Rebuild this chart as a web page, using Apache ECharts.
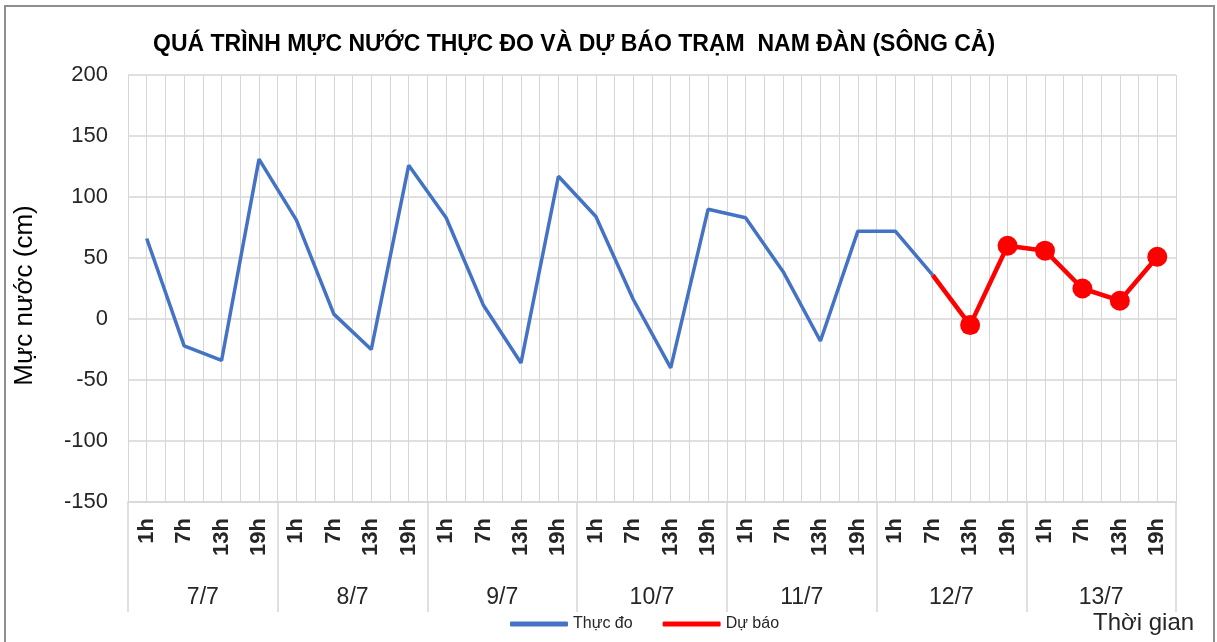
<!DOCTYPE html>
<html>
<head>
<meta charset="utf-8">
<script src="https://cdn.jsdelivr.net/npm/echarts@6/dist/echarts.min.js"></script>
<style>
  html, body { margin: 0; padding: 0; background: #fff; }
  #chartsDom { width: 1217px; height: 642px; }
</style>
</head>
<body>
<div id="chartsDom"></div>
<script>
// du lieu
const days = ["7/7", "8/7", "9/7", "10/7", "11/7", "12/7", "13/7"];
const hours = ["1h", "7h", "13h", "19h"];
const yTicks = { min: -150, max: 200, step: 50 };

// muc nuoc thuc do (cm), 7/7 1h -> 12/7 7h
const thucDo = [66, -22, -34, 131, 81, 4, -25, 126, 83, 11, -36, 117, 84, 16, -40, 90, 83, 39, -18, 72, 72, 36];
// du bao (cm), 12/7 7h -> 13/7 19h
const duBao = [36, -5, 60, 56, 25, 15, 51];

const categories = [];
days.forEach(d => hours.forEach(h => categories.push(d + " " + h)));

const observedData = categories.map((c, i) => (i < thucDo.length ? thucDo[i] : null));
const forecastStart = thucDo.length - 1;
const forecastData = categories.map((c, i) => {
  if (i < forecastStart) return null;
  const v = duBao[i - forecastStart];
  // diem noi dau tien khong co marker
  return i === forecastStart ? { value: v, symbol: "none" } : v;
});

const gridColor = "#d6d6d6";
const textColor = "#262626";
const font = "'Liberation Sans', Arial, sans-serif";

const myChart = echarts.init(document.getElementById("chartsDom"));
const option = {
  backgroundColor: "#fff",
  animation: false,
  title: {
    text: "QUÁ TRÌNH MỰC NƯỚC THỰC ĐO VÀ DỰ BÁO TRẠM  NAM ĐÀN (SÔNG CẢ)",
    left: 148,
    top: 28,
    textStyle: { fontFamily: font, fontWeight: "bold", fontSize: 23, color: "#000" }
  },
  legend: {
    left: 505,
    top: 611,
    itemWidth: 58,
    itemHeight: 5,
    itemGap: 30,
    textStyle: { fontFamily: font, fontSize: 16, color: textColor },
    data: [
      { name: "Thực đo", icon: "roundRect" },
      { name: "Dự báo", icon: "roundRect" }
    ]
  },
  graphic: [
    {
      type: "rect",
      shape: { x: 5, y: 6, width: 1209, height: 660 },
      style: { fill: "none", stroke: "#8f8f8f", lineWidth: 2 },
      silent: true
    },
    {
      type: "text",
      left: 1093,
      top: 611,
      style: { text: "Thời gian", fontFamily: font, fontSize: 24, fill: textColor }
    }
  ],
  grid: { left: 128, right: 41, top: 75, bottom: 140 },
  xAxis: [
    {
      type: "category",
      position: "bottom",
      data: categories,
      boundaryGap: true,
      axisLine: { show: false },
      axisTick: { show: false },
      splitLine: { show: false },
      axisLabel: {
        interval: 0,
        rotate: 90,
        margin: 16,
        fontFamily: font,
        fontSize: 22,
        fontWeight: "bold",
        color: textColor,
        formatter: v => v.split(" ")[1]
      }
    },
    {
      type: "category",
      position: "bottom",
      data: days,
      boundaryGap: true,
      axisLine: { show: true, lineStyle: { color: gridColor, width: 1.5 } },
      axisTick: { show: true, length: 110, interval: 0, lineStyle: { color: gridColor, width: 1.5 } },
      splitLine: { show: false },
      axisLabel: { interval: 0, margin: 84, fontFamily: font, fontSize: 23, color: textColor }
    },
    {
      // luoi doc moi nua khoang
      type: "value",
      position: "top",
      min: 0,
      max: categories.length * 2,
      interval: 1,
      axisLine: { show: false },
      axisTick: { show: false },
      axisLabel: { show: false },
      splitLine: { show: true, lineStyle: { color: gridColor, width: 1 } }
    }
  ],
  yAxis: {
    type: "value",
    min: yTicks.min,
    max: yTicks.max,
    interval: yTicks.step,
    name: "Mực nước (cm)",
    nameLocation: "middle",
    nameGap: 90,
    nameTextStyle: { fontFamily: font, fontSize: 26, color: "#000", padding: [0, 14, 0, 0] },
    axisLine: { show: false },
    axisTick: { show: false },
    axisLabel: { margin: 20, fontFamily: font, fontSize: 22, color: textColor },
    splitLine: { show: true, lineStyle: { color: gridColor, width: 1.5 } }
  },
  series: [
    {
      name: "Thực đo",
      type: "line",
      xAxisIndex: 0,
      data: observedData,
      showSymbol: false,
      symbol: "none",
      lineStyle: { color: "#4472C4", width: 3.5 },
      itemStyle: { color: "#4472C4" },
      z: 2
    },
    {
      name: "Dự báo",
      type: "line",
      xAxisIndex: 0,
      data: forecastData,
      symbol: "circle",
      symbolSize: 20,
      lineStyle: { color: "#FF0000", width: 4.5 },
      itemStyle: { color: "#FF0000" },
      z: 3
    }
  ]
};
option && myChart.setOption(option);
</script>
</body>
</html>
